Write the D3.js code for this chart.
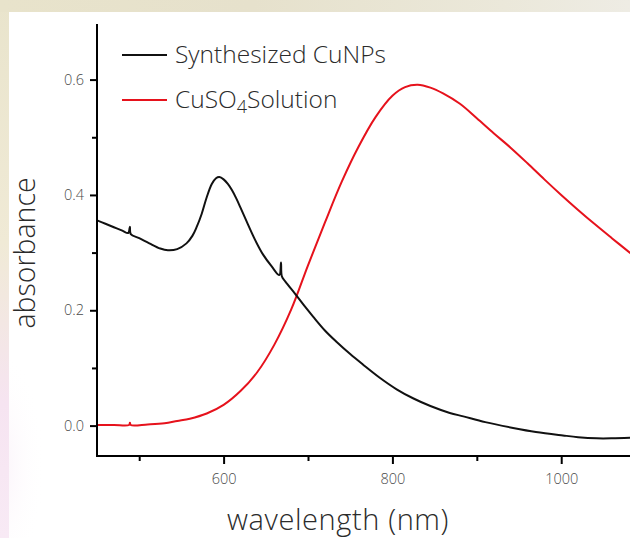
<!DOCTYPE html>
<html>
<head>
<meta charset="utf-8">
<script src="https://cdn.jsdelivr.net/npm/d3@7"></script>
<style>
  html, body { margin: 0; padding: 0; background: #ffffff; }
  svg { display: block; }
  text { font-family: "Open Sans", "Noto Sans", sans-serif; }
</style>
</head>
<body>
<svg id="chart" width="630" height="538"></svg>
<script>
// UV-Vis absorbance spectra
const cuNPsWavelength = [450, 460, 470, 480, 487, 489, 490, 500, 512, 525, 534, 545, 556, 563, 568, 574, 580, 586, 591, 595, 600, 605, 610, 615, 620, 627, 637, 647, 657, 666, 668, 669, 673, 685, 696, 706, 720, 734, 750, 765, 785, 805, 825, 845, 868, 884, 910, 943, 970, 1002, 1020, 1042, 1060, 1082];
const cuNPsAbsorbance = [0.356, 0.350, 0.344, 0.338, 0.334, 0.345, 0.332, 0.325, 0.316, 0.307, 0.304, 0.306, 0.316, 0.329, 0.344, 0.367, 0.396, 0.419, 0.429, 0.431, 0.427, 0.419, 0.408, 0.394, 0.378, 0.355, 0.323, 0.296, 0.276, 0.261, 0.283, 0.259, 0.250, 0.228, 0.207, 0.189, 0.165, 0.145, 0.124, 0.106, 0.083, 0.063, 0.047, 0.034, 0.022, 0.016, 0.006, -0.004, -0.011, -0.017, -0.020, -0.022, -0.022, -0.021];

const cuso4Wavelength = [450, 470, 488, 489, 490, 510, 530, 545, 560, 580, 600, 620, 640, 660, 680, 700, 720, 740, 760, 780, 800, 815, 830, 845, 860, 880, 900, 920, 940, 960, 980, 1000, 1020, 1040, 1060, 1082];
const cuso4Absorbance = [0.001, 0.001, 0.001, 0.005, 0.001, 0.002, 0.004, 0.008, 0.012, 0.021, 0.036, 0.060, 0.093, 0.140, 0.201, 0.278, 0.352, 0.423, 0.484, 0.535, 0.572, 0.587, 0.591, 0.586, 0.576, 0.558, 0.533, 0.507, 0.482, 0.455, 0.427, 0.400, 0.374, 0.349, 0.325, 0.299];

const xMajorTicks = [600, 800, 1000];
const xMinorTicks = [500, 700, 900];
const yMajorTicks = [0.0, 0.2, 0.4, 0.6];
const yMinorTicks = [0.1, 0.3, 0.5];

const seriesNames = ["Synthesized CuNPs", "CuSO4Solution"];
const seriesColors = ["#111111", "#e6121c"];

const svg = d3.select("#chart");
const W = 630, H = 538;

// page backdrop: tinted border strips around the white sheet
const defs = svg.append("defs");
const leftGrad = defs.append("linearGradient").attr("id", "leftStrip").attr("x1", 0).attr("y1", 0).attr("x2", 0).attr("y2", 1);
leftGrad.append("stop").attr("offset", "0%").attr("stop-color", "#e9e4cc");
leftGrad.append("stop").attr("offset", "45%").attr("stop-color", "#f0ead6");
leftGrad.append("stop").attr("offset", "75%").attr("stop-color", "#f6e4f1");
leftGrad.append("stop").attr("offset", "100%").attr("stop-color", "#f8eaf5");
const topGrad = defs.append("linearGradient").attr("id", "topStrip").attr("x1", 0).attr("y1", 0).attr("x2", 1).attr("y2", 0);
topGrad.append("stop").attr("offset", "0%").attr("stop-color", "#e8e3cb");
topGrad.append("stop").attr("offset", "40%").attr("stop-color", "#e6e1cc");
topGrad.append("stop").attr("offset", "80%").attr("stop-color", "#ebe8da");
topGrad.append("stop").attr("offset", "100%").attr("stop-color", "#eeece4");
const haze = defs.append("radialGradient").attr("id", "pinkHaze").attr("cx", 0).attr("cy", 0.7).attr("r", 0.5);
haze.append("stop").attr("offset", "0%").attr("stop-color", "#f8ebf6").attr("stop-opacity", 0.6);
haze.append("stop").attr("offset", "100%").attr("stop-color", "#ffffff").attr("stop-opacity", 0);

svg.append("rect").attr("x", 0).attr("y", 0).attr("width", W).attr("height", H).attr("fill", "#ffffff");
svg.append("rect").attr("x", 0).attr("y", 300).attr("width", 90).attr("height", 238).attr("fill", "url(#pinkHaze)");
svg.append("rect").attr("x", 0).attr("y", 0).attr("width", 9).attr("height", H).attr("fill", "url(#leftStrip)");
svg.append("rect").attr("x", 0).attr("y", 0).attr("width", W).attr("height", 12).attr("fill", "url(#topStrip)");

// scales
const x = d3.scaleLinear().domain([450, 1081.5]).range([97, 630]);
const y = d3.scaleLinear().domain([-0.0527, 0.6964]).range([456, 24]);

const axisColor = "#000000";
const labelColor = "#4a4a4a";

// x axis: major ticks labelled, minor ticks plain
const xAxisMajor = d3.axisBottom(x).tickValues(xMajorTicks).tickSize(8).tickPadding(10).tickFormat(d3.format("d"));
const xAxisMinor = d3.axisBottom(x).tickValues(xMinorTicks).tickSize(5).tickFormat("");
svg.append("g").attr("transform", "translate(0,456)").call(xAxisMajor);
svg.append("g").attr("transform", "translate(0,456)").call(xAxisMinor);

const yAxisMajor = d3.axisLeft(y).tickValues(yMajorTicks).tickSize(7).tickPadding(6).tickFormat(d3.format(".1f"));
const yAxisMinor = d3.axisLeft(y).tickValues(yMinorTicks).tickSize(5).tickFormat("");
svg.append("g").attr("transform", "translate(97,0)").call(yAxisMajor);
svg.append("g").attr("transform", "translate(97,0)").call(yAxisMinor);

svg.selectAll(".domain").remove();
svg.selectAll(".tick line").attr("stroke", axisColor).attr("stroke-width", 2);
svg.selectAll(".tick text").attr("fill", labelColor).attr("font-size", 14.5).attr("font-family", "'Open Sans', 'Noto Sans', sans-serif").attr("font-weight", 300);

// axis spines
svg.append("line").attr("x1", 97).attr("x2", 97).attr("y1", 24).attr("y2", 457).attr("stroke", axisColor).attr("stroke-width", 2);
svg.append("line").attr("x1", 96).attr("x2", 630).attr("y1", 456).attr("y2", 456).attr("stroke", axisColor).attr("stroke-width", 2);

// spectra
const clip = defs.append("clipPath").attr("id", "plotClip");
clip.append("rect").attr("x", 98).attr("y", 24).attr("width", 532).attr("height", 431);

const line = d3.line().x(d => x(d[0])).y(d => y(d[1])).curve(d3.curveCatmullRom.alpha(0.5));
const cuNPs = cuNPsWavelength.map((w, i) => [w, cuNPsAbsorbance[i]]);
const cuso4 = cuso4Wavelength.map((w, i) => [w, cuso4Absorbance[i]]);

const plot = svg.append("g").attr("clip-path", "url(#plotClip)");
plot.append("path").datum(cuso4).attr("d", line).attr("fill", "none")
  .attr("stroke", seriesColors[1]).attr("stroke-width", 2).attr("stroke-linejoin", "round");
plot.append("path").datum(cuNPs).attr("d", line).attr("fill", "none")
  .attr("stroke", seriesColors[0]).attr("stroke-width", 2).attr("stroke-linejoin", "round");

// legend
const legend = svg.append("g");
const legendRows = [{ name: seriesNames[0], color: seriesColors[0], y: 55 }, { name: seriesNames[1], color: seriesColors[1], y: 100 }];
legendRows.forEach((r, i) => {
  legend.append("line").attr("x1", 122).attr("x2", 167).attr("y1", r.y).attr("y2", r.y)
    .attr("stroke", r.color).attr("stroke-width", 2);
  const t = legend.append("text").attr("x", 175).attr("y", r.y + 8)
    .attr("font-size", 24.5).attr("font-weight", 300).attr("fill", "#2b2b2b");
  if (i === 0) {
    t.text(r.name);
  } else {
    t.append("tspan").text("CuSO");
    t.append("tspan").attr("font-size", 18).attr("dy", 5).text("4");
    t.append("tspan").attr("dy", -5).text("Solution");
  }
});

// axis titles
svg.append("text").attr("x", 338).attr("y", 530).attr("text-anchor", "middle")
  .attr("font-size", 29).attr("letter-spacing", 0.6).attr("font-weight", 300).attr("fill", "#2b2b2b").text("wavelength (nm)");
svg.append("text").attr("transform", "translate(35,253) rotate(-90)").attr("text-anchor", "middle")
  .attr("font-size", 28.5).attr("font-weight", 300).attr("fill", "#2b2b2b").text("absorbance");
</script>
</body>
</html>
